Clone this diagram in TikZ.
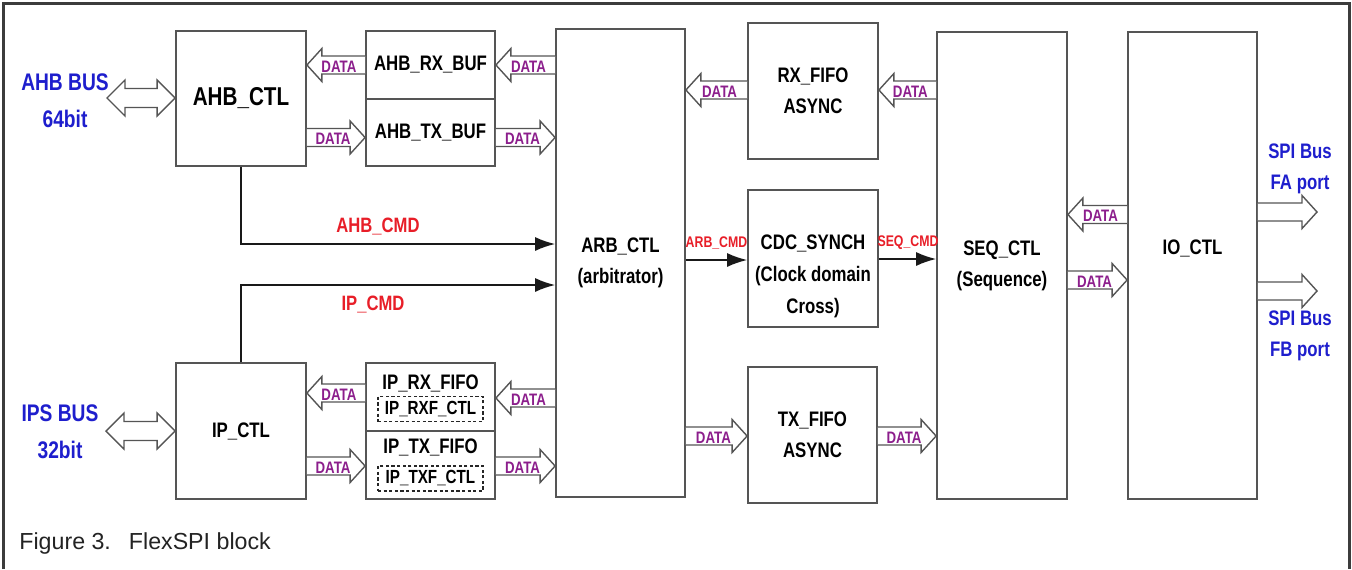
\documentclass[tikz,border=0pt]{standalone}
\usepackage{fontspec}
\setmainfont{Liberation Sans}
\newfontfamily\narrowfont[FakeStretch=0.8]{Liberation Sans}
\usetikzlibrary{calc,arrows.meta}
\definecolor{boxgray}{RGB}{85,85,85}
\definecolor{framegray}{RGB}{60,60,60}
\definecolor{busblue}{RGB}{30,30,205}
\definecolor{cmdred}{RGB}{232,30,40}
\definecolor{datapurple}{RGB}{140,30,140}
\definecolor{captiongray}{RGB}{35,35,35}
\newcommand{\fs}[2]{\fontsize{#1}{#2}\selectfont}
\tikzset{
  blk/.style={draw=boxgray, line width=0.9pt, fill=white, inner sep=0pt, align=center,
    font=\narrowfont\bfseries\fs{10.5}{15.5}},
  blktext/.style={inner sep=0pt, align=center, font=\narrowfont\bfseries\fs{10.5}{16}},
  dashblk/.style={draw=black!85, line width=0.6pt, dash pattern=on 1.6pt off 1.2pt, inner sep=0pt,
    minimum width=52.5pt, minimum height=12.5pt, font=\narrowfont\bfseries\fs{9.5}{11}},
  buslbl/.style={text=busblue, align=center, inner sep=0pt, font=\narrowfont\bfseries\fs{12}{18.5}},
  spilbl/.style={text=busblue, align=center, inner sep=0pt, font=\narrowfont\bfseries\fs{10.5}{15.5}},
  cmdlbl/.style={text=cmdred, inner sep=0pt, font=\narrowfont\bfseries\fs{10.4}{12}},
  smallcmd/.style={text=cmdred, inner sep=0pt, font=\narrowfont\bfseries\fs{7.7}{9}},
  dlbl/.style={text=datapurple, inner sep=0pt, yshift=-0.8pt, font=\narrowfont\bfseries\fs{8.3}{9}},
  cmd/.style={draw=black!90, line width=0.8pt, -{Latex[length=10pt,width=7pt]}},
  fat/.style={draw=boxgray, line width=0.7pt, fill=white, to path={
      let \p1=(\tikztostart), \p2=(\tikztotarget), \n1={sign(\x2-\x1)} in
      ({\x1},{\y1+4.5pt}) -- ({\x2-(\n1)*7.5pt},{\y1+4.5pt}) -- ({\x2-(\n1)*7.5pt},{\y1+8.25pt})
      -- ({\x2},{\y1}) -- ({\x2-(\n1)*7.5pt},{\y1-8.25pt}) -- ({\x2-(\n1)*7.5pt},{\y1-4.5pt})
      -- ({\x1},{\y1-4.5pt})}},
  fatboth/.style={draw=boxgray, line width=0.7pt, fill=white, to path={
      let \p1=(\tikztostart), \p2=(\tikztotarget) in
      ({\x1},{\y1}) -- ({\x1+9pt},{\y1+9pt}) -- ({\x1+9pt},{\y1+4.75pt}) -- ({\x2-9pt},{\y1+4.75pt})
      -- ({\x2-9pt},{\y1+9pt}) -- ({\x2},{\y1}) -- ({\x2-9pt},{\y1-9pt}) -- ({\x2-9pt},{\y1-4.75pt})
      -- ({\x1+9pt},{\y1-4.75pt}) -- ({\x1+9pt},{\y1-9pt}) -- cycle}}
}
\newcommand{\dataflow}[3]{%
  \draw[fat] (#1 |- 0,#3) to (#2 |- 0,#3);
  \path (#1 |- 0,#3) -- node[dlbl,pos=.45]{DATA} (#2 |- 0,#3);
}
\begin{document}
\begin{tikzpicture}[x=0.5pt,y=-0.5pt,>=latex,line join=miter]
%%
\fill[white] (0,0) rectangle (1352,569);
\useasboundingbox (0,0) rectangle (1352,569);
\draw[framegray, line width=1.6pt] (3.5,569) -- (3.5,3.5) -- (1349.5,3.5) -- (1349.5,569);
%
\node (ahb_ctl) at (241,98.5) [blk,minimum width=65pt,minimum height=67.5pt,font=\narrowfont\bfseries\fs{12.9}{15}] {AHB\_CTL};
\node (ahb_rx) at (430.5,65) [blk,minimum width=64.5pt,minimum height=34pt] {AHB\_RX\_BUF};
\node (ahb_tx) at (430.5,132.5) [blk,minimum width=64.5pt,minimum height=33.5pt] {AHB\_TX\_BUF};
\node (ip_ctl) at (241,431) [blk,minimum width=65pt,minimum height=68pt] {IP\_CTL};
\node (ip_rx) at (430.5,397) [blk,minimum width=64.5pt,minimum height=34pt] {};
\node (ip_tx) at (430.5,465) [blk,minimum width=64.5pt,minimum height=34pt] {};
\node (ip_rx_txt) at (430.5,383) [blktext] {IP\_RX\_FIFO};
\node (ip_rxf) at (430.5,409) [dashblk] {IP\_RXF\_CTL};
\node (ip_tx_txt) at (430.5,447) [blktext] {IP\_TX\_FIFO};
\node (ip_txf) at (430.5,478.5) [dashblk] {IP\_TXF\_CTL};
\node (arb_ctl) at (620.5,263) [blk,minimum width=64.5pt,minimum height=234pt] {ARB\_CTL\\(arbitrator)};
\node (rx_fifo) at (813,91) [blk,minimum width=65pt,minimum height=68pt] {RX\_FIFO\\ASYNC};
\node (cdc) at (813,258.5) [blk,minimum width=65pt,minimum height=68.5pt] {};
\node (cdc_txt) at (813,276) [blktext] {CDC\_SYNCH\\(Clock domain\\Cross)};
\node (tx_fifo) at (812.5,435) [blk,minimum width=64.5pt,minimum height=68pt] {TX\_FIFO\\ASYNC};
\node (seq_ctl) at (1002,265.5) [blk,minimum width=65pt,minimum height=233.5pt] {SEQ\_CTL\\(Sequence)};
\node (io_ctl) at (1192.5,265.5) [blk,minimum width=64.5pt,minimum height=233.5pt] {};
\node (io_txt) at (1192.5,248) [blktext] {IO\_CTL};
%
\node (ahb_bus) at (65,100.5) [buslbl] {AHB BUS\\64bit};
\node (ips_bus) at (60,432) [buslbl] {IPS BUS\\32bit};
\node (spi_fa) at (1300,168.5) [spilbl] {SPI Bus\\FA port};
\node (spi_fb) at (1300,335.5) [spilbl] {SPI Bus\\FB port};
\coordinate (ahb_port) at (107,98);
\coordinate (ips_port) at (106,431);
\coordinate (fa_port) at (1317,212);
\coordinate (fb_port) at (1317,291);
%
\draw[fatboth] (ahb_port) to (ahb_ctl.west |- ahb_port);
\draw[fatboth] (ips_port) to (ip_ctl.west |- ips_port);
\draw[fat] (io_ctl.east |- fa_port) to (fa_port);
\draw[fat] (io_ctl.east |- fb_port) to (fb_port);
%
\dataflow{arb_ctl.west}{ahb_rx.east}{65}
\dataflow{ahb_rx.west}{ahb_ctl.east}{65}
\dataflow{ahb_ctl.east}{ahb_tx.west}{137.5}
\dataflow{ahb_tx.east}{arb_ctl.west}{137.5}
\dataflow{rx_fifo.west}{arb_ctl.east}{90}
\dataflow{seq_ctl.west}{rx_fifo.east}{90}
\dataflow{arb_ctl.east}{tx_fifo.west}{436}
\dataflow{tx_fifo.east}{seq_ctl.west}{436}
\dataflow{io_ctl.west}{seq_ctl.east}{214.5}
\dataflow{seq_ctl.east}{io_ctl.west}{280}
\dataflow{arb_ctl.west}{ip_rx.east}{398}
\dataflow{ip_rx.west}{ip_ctl.east}{393}
\dataflow{ip_ctl.east}{ip_tx.west}{466}
\dataflow{ip_tx.east}{arb_ctl.west}{466}
%
\draw[cmd] (ahb_ctl.south) |- (arb_ctl.west |- 0,244);
\draw[cmd] (ip_ctl.north) |- (arb_ctl.west |- 0,285);
\draw[cmd] (arb_ctl.east |- 0,260) -- (cdc.west |- 0,260);
\draw[cmd] (cdc.east |- 0,259) -- (seq_ctl.west |- 0,259);
\node (ahb_cmd) at (378,226) [cmdlbl] {AHB\_CMD};
\node (ip_cmd) at (373,304) [cmdlbl] {IP\_CMD};
\node (arb_cmd) at (716.5,243) [smallcmd] {ARB\_CMD};
\node (seq_cmd) at (908,243) [smallcmd] {SEQ\_CMD};
%
\node (caption) at (19,549) [anchor=base west,inner sep=0pt,text=captiongray,font=\fs{11.6}{14}] {Figure 3.\hspace{9pt}FlexSPI block};
%
\end{tikzpicture}
\end{document}
